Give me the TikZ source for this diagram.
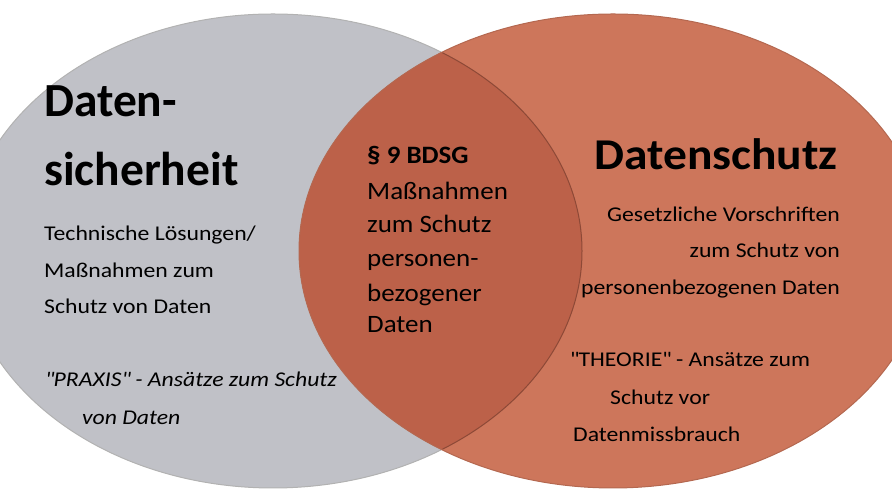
\documentclass[tikz,border=0pt]{standalone}
\usepackage{fontspec}
\setmainfont{Carlito}
\newfontfamily\bodyfont[FakeStretch=1.13]{Carlito}
\newfontfamily\midfont[FakeStretch=1.08]{Carlito}
\newfontfamily\rtitlefont[FakeStretch=1.08]{Carlito}
\definecolor{sicherheit-gray}{RGB}{192,193,199}
\definecolor{schutz-orange}{RGB}{205,118,91}
\definecolor{overlap-orange}{RGB}{188,97,73}
\tikzstyle{title-text}=[inner sep=0,font=\bfseries\fontsize{47.5}{56}\selectfont]
\tikzstyle{body-text}=[inner sep=0,font=\bodyfont\fontsize{21}{25}\selectfont]
\tikzstyle{mid-text}=[inner sep=0,anchor=base west,font=\midfont\fontsize{25}{30}\selectfont]

\begin{document}
\begin{tikzpicture}[x=1pt,y=1pt]
    \useasboundingbox (0,0) rectangle (892,502);
    % the two sets
    \fill[sicherheit-gray] (273,251) ellipse [x radius=309, y radius=237];
    \draw[black!30,line width=1pt] (273,251) ellipse [x radius=309, y radius=237];
    \fill[schutz-orange] (613,251) ellipse [x radius=314, y radius=237];
    \begin{scope}
        \clip (613,251) ellipse [x radius=314, y radius=237];
        \fill[overlap-orange] (273,251) ellipse [x radius=309, y radius=237];
        \draw[black!25!overlap-orange,line width=1pt] (273,251) ellipse [x radius=309, y radius=237];
    \end{scope}
    \draw[black!12!schutz-orange,line width=1pt] (613,251) ellipse [x radius=314, y radius=237];

    % left set
    \node[title-text,anchor=base west] (t1) at (44,385) {Daten-};
    \node[title-text,anchor=base west] (t2) at (44,316) {sicherheit};
    \node[body-text,anchor=base west] (l1) at (44,261) {Technische Lösungen/};
    \node[body-text,anchor=base west] (l2) at (44,224) {Maßnahmen zum};
    \node[body-text,anchor=base west] (l3) at (44,188) {Schutz von Daten};
    \node[body-text,anchor=base west,font=\bodyfont\itshape\fontsize{21}{25}\selectfont] (l4) at (45,115) {\textquotedbl PRAXIS\textquotedbl{} - Ansätze zum Schutz};
    \node[body-text,anchor=base west,font=\bodyfont\itshape\fontsize{21}{25}\selectfont] (l5) at (82,77) {von Daten};

    % intersection
    \node[mid-text,font=\midfont\bfseries\fontsize{25}{30}\selectfont] (m1) at (367,338) {§ 9 BDSG};
    \node[mid-text] (m2) at (367,302) {Maßnahmen};
    \node[mid-text] (m3) at (367,269) {zum Schutz};
    \node[mid-text] (m4) at (367,235) {personen-};
    \node[mid-text] (m5) at (367,200) {bezogener};
    \node[mid-text] (m6) at (367,169) {Daten};

    % right set
    \node[title-text,anchor=base east,font=\rtitlefont\bfseries\fontsize{44}{52}\selectfont] (t3) at (838,332) {Datenschutz};
    \node[body-text,anchor=base east] (r1) at (840,280) {Gesetzliche Vorschriften};
    \node[body-text,anchor=base east] (r2) at (840,244) {zum Schutz von};
    \node[body-text,anchor=base east] (r3) at (840,207) {personenbezogenen Daten};
    \node[body-text,anchor=base west] (r4) at (570,135) {\textquotedbl THEORIE\textquotedbl{} - Ansätze zum};
    \node[body-text,anchor=base west] (r5) at (610,97) {Schutz vor};
    \node[body-text,anchor=base west] (r6) at (573,60) {Datenmissbrauch};
\end{tikzpicture}
\end{document}
